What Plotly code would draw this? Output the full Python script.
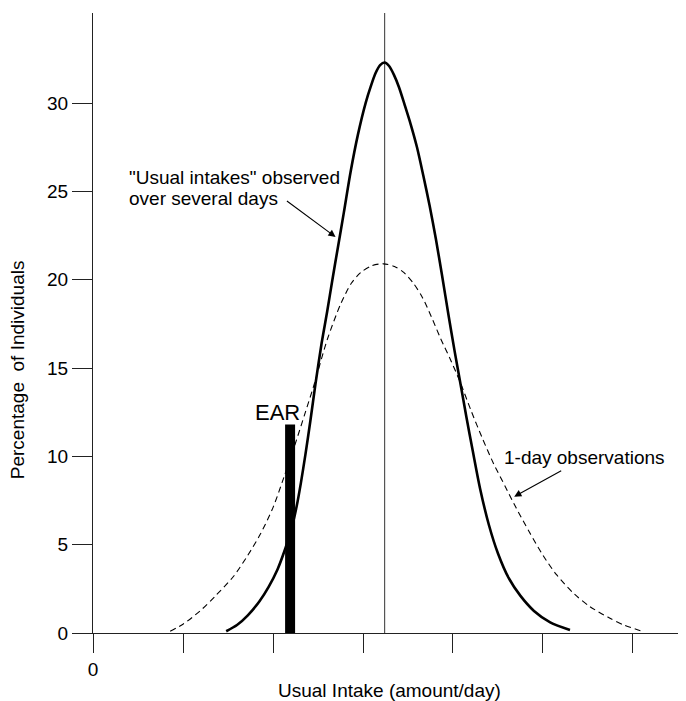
import plotly.graph_objects as go

# ---- data ----
usual_x = [1.48, 1.60, 1.72, 1.85, 1.95, 2.05, 2.138, 2.20, 2.26, 2.31, 2.36, 2.415,
           2.472, 2.54, 2.602, 2.66, 2.72, 2.787, 2.862, 2.943, 3.029, 3.09, 3.14, 3.19,
           3.24, 3.29, 3.344, 3.40, 3.463, 3.53, 3.60, 3.67, 3.74, 3.81, 3.88, 3.95,
           4.02, 4.08, 4.15, 4.22, 4.30, 4.40, 4.50, 4.62, 4.75, 4.90, 5.08, 5.30]
usual_y = [0.1, 0.45, 1.0, 1.8, 2.6, 3.6, 4.8, 5.8, 7.1, 8.5, 10.1, 12.0,
           14.1, 16.4, 18.2, 20.0, 21.8, 23.8, 26.1, 28.2, 30.0, 31.0, 31.7, 32.15,
           32.3, 32.1, 31.6, 30.9, 29.9, 28.8, 27.5, 25.9, 24.2, 22.3, 20.2, 18.0,
           15.9, 14.2, 12.2, 10.3, 8.2, 6.1, 4.5, 3.1, 2.1, 1.25, 0.6, 0.17]

oneday_x = [0.857, 1.0, 1.19, 1.36, 1.56, 1.72, 1.86, 2.0, 2.12, 2.24, 2.36, 2.453,
            2.602, 2.75, 2.87, 2.973, 3.1, 3.226, 3.35, 3.456, 3.56, 3.66, 3.76, 3.86,
            3.97, 4.08, 4.20, 4.32, 4.45, 4.58, 4.70, 4.85, 5.0, 5.15, 5.35, 5.52,
            5.72, 5.9, 6.09]
oneday_y = [0.1, 0.5, 1.25, 2.1, 3.2, 4.4, 5.6, 7.1, 8.8, 10.6, 12.5, 14.0,
            16.6, 18.6, 19.8, 20.4, 20.8, 20.9, 20.75, 20.4, 19.8, 19.0, 17.9, 16.7,
            15.5, 14.2, 12.6, 11.1, 9.6, 8.3, 7.1, 5.7, 4.4, 3.3, 2.2, 1.5,
            0.9, 0.45, 0.12]

ear_x = [2.19]
ear_y = [11.8]
mean_x = 3.24

x_tickvals = [0, 1, 2, 3, 4, 5, 6]
x_ticktext = ["0", "", "", "", "", "", ""]
y_tickvals = [0, 5, 10, 15, 20, 25, 30]

FONT = "Liberation Sans, Arial, Helvetica, sans-serif"

fig = go.Figure()

fig.add_trace(go.Bar(x=ear_x, y=ear_y, width=0.111, marker=dict(color="black", line=dict(width=0)),
                     hoverinfo="skip"))
fig.add_trace(go.Scatter(x=oneday_x, y=oneday_y, mode="lines",
                         line=dict(color="black", width=1.1, dash="6px,4px", shape="spline", smoothing=0.8)))
fig.add_trace(go.Scatter(x=usual_x, y=usual_y, mode="lines",
                         line=dict(color="black", width=2.6, shape="spline", smoothing=0.8)))

fig.add_shape(type="line", x0=mean_x, x1=mean_x, xref="x", yref="paper", y0=0, y1=1,
              line=dict(color="#555555", width=1.2), layer="below")

annotations = [
    dict(text='"Usual intakes" observed', x=0.379, y=25.8, xref="x", yref="y",
         xanchor="left", yanchor="middle", showarrow=False, font=dict(size=19)),
    dict(text='over several days', x=0.379, y=24.6, xref="x", yref="y",
         xanchor="left", yanchor="middle", showarrow=False, font=dict(size=19)),
    dict(text="", x=2.695, y=22.42, ax=2.138, ay=24.52, xref="x", yref="y", axref="x", ayref="y",
         showarrow=True, arrowhead=2, arrowsize=1.3, arrowwidth=1.1, arrowcolor="black", standoff=0),
    dict(text="1-day observations", x=4.543, y=9.94, xref="x", yref="y",
         xanchor="left", yanchor="middle", showarrow=False, font=dict(size=19)),
    dict(text="", x=4.68, y=7.72, ax=5.219, ay=9.23, xref="x", yref="y", axref="x", ayref="y",
         showarrow=True, arrowhead=2, arrowsize=1.3, arrowwidth=1.1, arrowcolor="black", standoff=0),
    dict(text="EAR", x=2.049, y=12.46, xref="x", yref="y", xanchor="center", yanchor="middle",
         showarrow=False, font=dict(size=22)),
    dict(text="Usual Intake (amount/day)", x=0.5, y=-0.0935, xref="paper", yref="paper",
         xanchor="center", yanchor="middle", showarrow=False, font=dict(size=19)),
    dict(text="Percentage\u00a0\u00a0of Individuals", x=-0.128, y=0.424, xref="paper", yref="paper",
         xanchor="center", yanchor="middle", textangle=-90, showarrow=False, font=dict(size=19)),
]

# the page body has an 8px default margin, so the figure is offset by (8, 8)
fig.update_layout(
    width=678, height=693,
    margin=dict(l=85, r=0, t=5, b=68),
    paper_bgcolor="white", plot_bgcolor="white",
    showlegend=False,
    font=dict(family=FONT, size=19, color="black"),
    annotations=annotations,
    xaxis=dict(range=[0, 6.589], showgrid=False, zeroline=False, showline=True,
               linecolor="#222222", linewidth=1.3, ticks="outside", ticklen=19, tickwidth=1.3,
               tickcolor="#222222", tickvals=x_tickvals, ticktext=x_ticktext,
               tickfont=dict(size=19)),
    yaxis=dict(range=[0, 35.1], showgrid=False, zeroline=False, showline=True,
               linecolor="#222222", linewidth=1.3, ticks="outside", ticklen=20, tickwidth=1.3,
               tickcolor="#222222", tickvals=y_tickvals, tickfont=dict(size=19)),
)

fig.write_html("out.html")
